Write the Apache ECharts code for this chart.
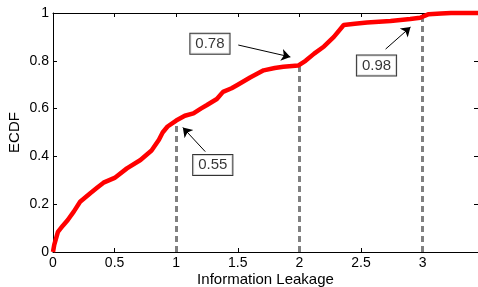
<!DOCTYPE html>
<html>
<head>
<meta charset="utf-8">
<script src="https://cdn.jsdelivr.net/npm/echarts@6/dist/echarts.min.js"></script>
<style>
  html, body { margin: 0; padding: 0; background: #fff; }
</style>
</head>
<body>
<div id="main" style="width: 478px; height: 287px;"></div>
<script>
// ECDF curve
const leakX = [0, 0.01, 0.04, 0.08, 0.12, 0.17, 0.22, 0.30, 0.36, 0.41, 0.50, 0.60, 0.71, 0.80, 0.86, 0.89, 0.93,
  1.0, 1.07, 1.14, 1.20, 1.25, 1.33, 1.38, 1.45, 1.50, 1.60, 1.71, 1.80, 1.87, 1.99, 2.05, 2.12, 2.20, 2.28,
  2.36, 2.45, 2.55, 2.74, 2.90, 2.98, 3.05, 3.15, 3.23, 3.45];
const ecdfY = [0, 0.03, 0.084, 0.11, 0.134, 0.17, 0.21, 0.245, 0.27, 0.29, 0.31, 0.35, 0.385, 0.425, 0.47, 0.50, 0.525,
  0.55, 0.57, 0.58, 0.60, 0.615, 0.64, 0.67, 0.685, 0.70, 0.73, 0.76, 0.77, 0.775, 0.78, 0.80, 0.83, 0.86, 0.90,
  0.95, 0.955, 0.96, 0.967, 0.975, 0.98, 0.995, 0.998, 1.0, 1.0];

// dashed drop lines and their callouts
const dropX = [1, 2, 3];
const dropY = [0.55, 0.78, 0.98];
const noteText = ['0.55', '0.78', '0.98'];
const noteX = [1.297, 1.274, 2.626];
const noteY = [0.364, 0.871, 0.78];
const arrowFrom = [[1.236, 0.42], [1.504, 0.866], [2.70, 0.849]];
const arrowTo = [[1.054, 0.521], [1.927, 0.816], [2.902, 0.941]];

const xTicks = [0, 0.5, 1, 1.5, 2, 2.5, 3];
const yTicks = [0, 0.2, 0.4, 0.6, 0.8, 1];

const myChart = echarts.init(document.getElementById('main'));
const font = 'Liberation Sans, Arial, sans-serif';

const axisCommon = {
  axisLine: { show: true, onZero: false, lineStyle: { color: '#000', width: 1 } },
  axisTick: { show: true, inside: true, length: 4, lineStyle: { color: '#000' } },
  splitLine: { show: false }
};

const option = {
  animation: false,
  grid: { left: 53, right: 0, top: 13, bottom: 35, outerBoundsMode: 'none', containLabel: false },
  xAxis: [
    Object.assign({
      type: 'value', min: 0, max: 3.45, interval: 0.5, position: 'bottom',
      name: 'Information Leakage', nameLocation: 'middle', nameGap: 20, nameMoveOverlap: false,
      nameTextStyle: { color: '#000', fontSize: 15, fontFamily: font },
      axisLabel: {
        color: '#000', fontSize: 14, fontFamily: font, margin: 4,
        showMaxLabel: false,
        formatter: v => xTicks.includes(v) ? String(v) : ''
      }
    }, axisCommon),
    Object.assign({
      type: 'value', min: 0, max: 3.45, interval: 0.5, position: 'top',
      axisLabel: { show: false }
    }, axisCommon)
  ],
  yAxis: [
    Object.assign({
      type: 'value', min: 0, max: 1, interval: 0.2, position: 'left',
      name: 'ECDF', nameLocation: 'middle', nameGap: 31, nameMoveOverlap: false,
      nameTextStyle: { color: '#000', fontSize: 15, fontFamily: font },
      axisLabel: {
        color: '#000', fontSize: 14, fontFamily: font, margin: 4,
        formatter: v => yTicks.includes(+v.toFixed(1)) ? String(+v.toFixed(1)) : ''
      }
    }, axisCommon),
    Object.assign({
      type: 'value', min: 0, max: 1, interval: 0.2, position: 'right',
      axisLabel: { show: false }
    }, axisCommon)
  ],
  series: [
    {
      type: 'lines',
      coordinateSystem: 'cartesian2d',
      silent: true,
      z: 1,
      lineStyle: { color: '#808080', width: 3, type: [6, 4], opacity: 1 },
      data: dropX.map((x, i) => ({ coords: [[x, 0], [x, dropY[i]]] }))
    },
    {
      type: 'line',
      clip: false,
      z: 3,
      showSymbol: false,
      lineStyle: { color: '#ff0000', width: 4.5 },
      data: leakX.map((x, i) => [x, ecdfY[i]])
    },
    {
      type: 'lines',
      coordinateSystem: 'cartesian2d',
      silent: true,
      z: 4,
      symbol: ['none', 'arrow'],
      symbolSize: [0, 9],
      lineStyle: { color: '#000', width: 1, opacity: 1 },
      data: arrowFrom.map((p, i) => ({ coords: [p, arrowTo[i]] }))
    },
    {
      type: 'scatter',
      silent: true,
      z: 5,
      symbolSize: 0,
      label: {
        show: true,
        position: 'inside',
        formatter: p => noteText[p.dataIndex],
        color: '#000',
        fontSize: 15,
        fontFamily: font,
        backgroundColor: '#fff',
        borderColor: '#000',
        borderWidth: 1,
        padding: [3, 5, 2, 5]
      },
      data: noteX.map((x, i) => [x, noteY[i]])
    }
  ]
};
myChart.setOption(option);
</script>
</body>
</html>
